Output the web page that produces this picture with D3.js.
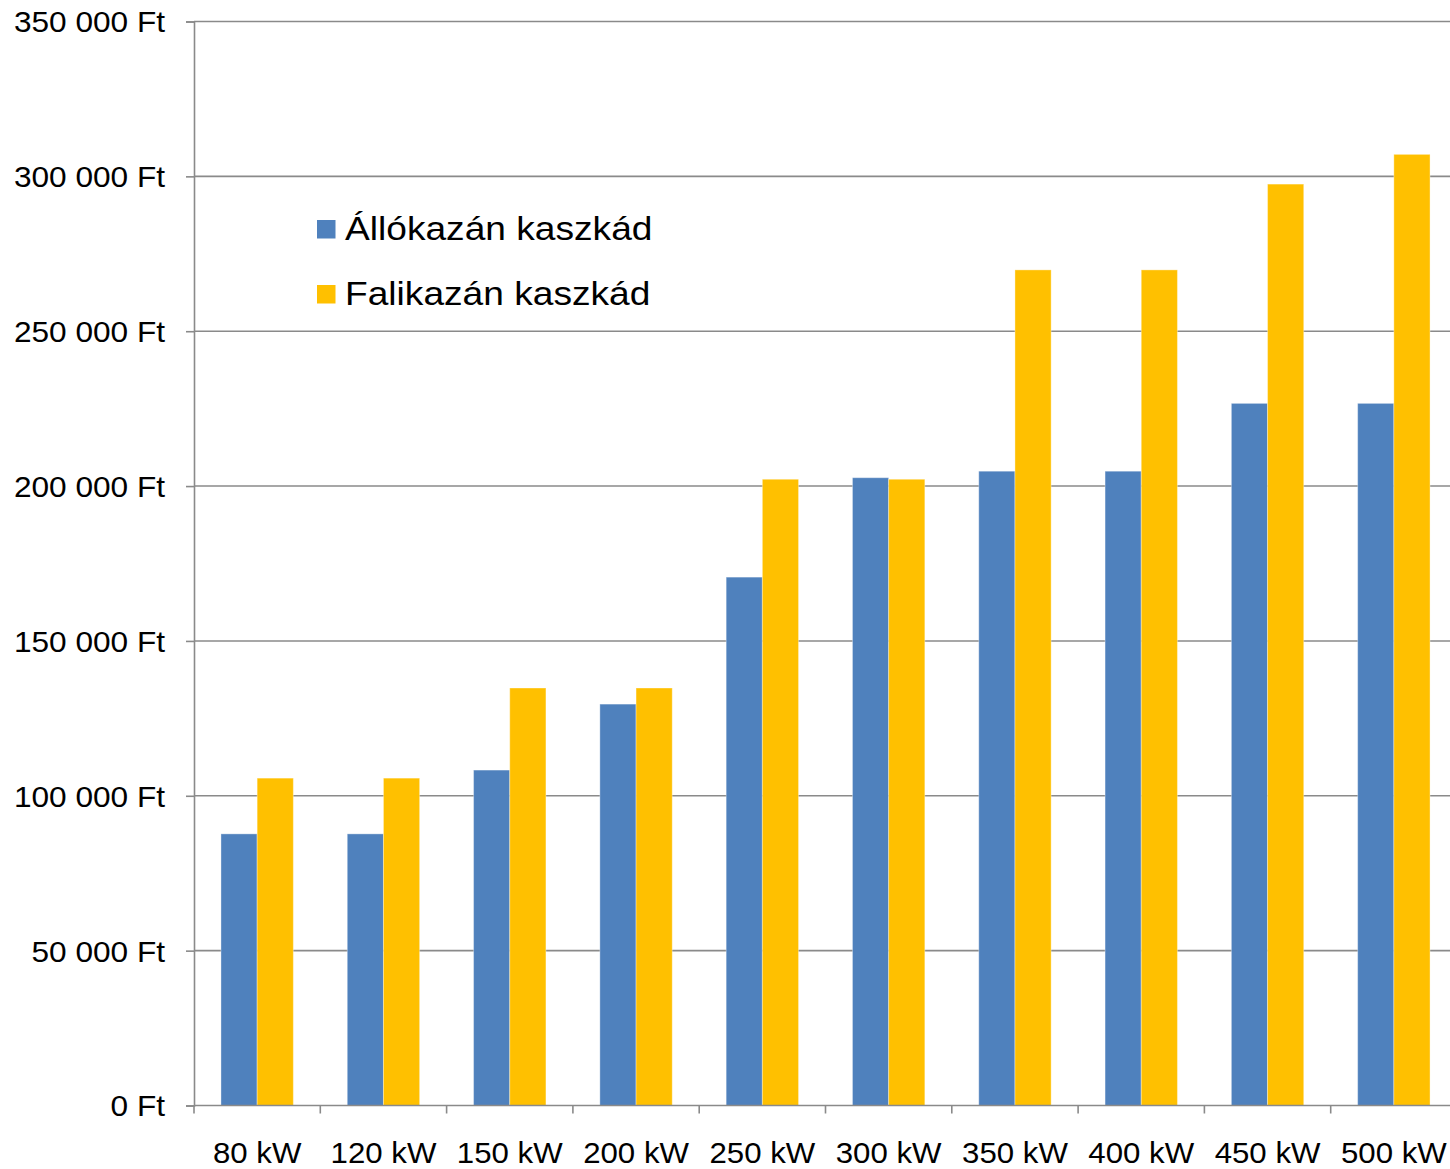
<!DOCTYPE html>
<html>
<head>
<meta charset="utf-8">
<script src="https://cdn.jsdelivr.net/npm/d3@7"></script>
<style>
  html, body { margin: 0; padding: 0; background: #fff; }
  svg { display: block; font-family: Arial, "Liberation Sans", sans-serif; }
</style>
</head>
<body>
<svg id="chart" width="1450" height="1169"></svg>
<script>
// Boiler capacities
const categories = ["80 kW", "120 kW", "150 kW", "200 kW", "250 kW", "300 kW", "350 kW", "400 kW", "450 kW", "500 kW"];
// Series names
const seriesNames = ["Állókazán kaszkád", "Falikazán kaszkád"];
// Prices in Ft
const allokazan = [87700, 87700, 108300, 129600, 170600, 202700, 204800, 204800, 226700, 226700];
const falikazan = [105700, 105700, 134800, 134800, 202200, 202200, 269800, 269800, 297500, 307100];
// Y axis ticks
const yTicks = [0, 50000, 100000, 150000, 200000, 250000, 300000, 350000];

const colors = ["#4F81BD", "#FFC000"];
const seriesValues = [allokazan, falikazan];

const svg = d3.select("#chart");
const plotLeft = 194, plotTop = 21.5, plotBottom = 1105.5;
const step = 126.3;
const plotRight = plotLeft + step * categories.length;

const x = d3.scaleBand()
  .domain(categories)
  .range([plotLeft, plotRight])
  .paddingInner(0.427)
  .paddingOuter(0.2135);
const xs = d3.scaleBand().domain(d3.range(seriesNames.length)).range([0, x.bandwidth()]);
const y = d3.scaleLinear().domain([0, 350000]).range([plotBottom, plotTop]);

const fmt = v => d3.format(",")(v).replace(/,/g, " ") + " Ft";
const gridColor = "#8a8a8a";

// horizontal gridlines
svg.append("g")
  .selectAll("line")
  .data(yTicks.filter(t => t > 0))
  .join("line")
  .attr("x1", plotLeft).attr("x2", 1450)
  .attr("y1", d => y(d)).attr("y2", d => y(d))
  .attr("stroke", gridColor).attr("stroke-width", 1.6);

// bars
const groups = svg.append("g")
  .selectAll("g")
  .data(categories)
  .join("g")
  .attr("transform", d => `translate(${x(d)},0)`);

groups.selectAll("rect")
  .data((c, i) => seriesValues.map((vals, s) => ({ s, v: vals[i] })))
  .join("rect")
  .attr("x", d => xs(d.s))
  .attr("width", xs.bandwidth())
  .attr("y", d => y(d.v))
  .attr("height", d => plotBottom - y(d.v))
  .attr("fill", d => colors[d.s])
  .attr("stroke", "rgba(255,255,255,0.35)")
  .attr("stroke-width", 1);

// y axis
const yAxis = svg.append("g")
  .attr("transform", `translate(${plotLeft},0)`)
  .call(d3.axisLeft(y).tickValues(yTicks).tickFormat(fmt).tickSize(8).tickPadding(21));
yAxis.select(".domain").attr("stroke", gridColor).attr("stroke-width", 1.6);
yAxis.selectAll(".tick line").attr("stroke", gridColor).attr("stroke-width", 1.6);
yAxis.selectAll(".tick text")
  .attr("font-size", 29).attr("fill", "#000").attr("dy", "0.36em")
  .attr("font-family", "Arial, 'Liberation Sans', sans-serif")
  .attr("class", "stretchY");

// x axis line and boundary ticks
svg.append("line")
  .attr("x1", plotLeft).attr("x2", 1450)
  .attr("y1", plotBottom).attr("y2", plotBottom)
  .attr("stroke", gridColor).attr("stroke-width", 1.6);
const boundaries = categories.map(c => x(c) - x.step() * x.paddingInner() / 2).concat([plotRight]);
svg.append("g").selectAll("line")
  .data(boundaries)
  .join("line")
  .attr("x1", d => d).attr("x2", d => d)
  .attr("y1", plotBottom).attr("y2", plotBottom + 8)
  .attr("stroke", gridColor).attr("stroke-width", 1.6);

// category labels
const xAxis = svg.append("g")
  .attr("transform", `translate(0,${plotBottom})`)
  .call(d3.axisBottom(x).tickSize(0).tickPadding(36));
xAxis.select(".domain").remove();
xAxis.selectAll(".tick text")
  .attr("font-size", 30).attr("fill", "#000")
  .attr("font-family", "Arial, 'Liberation Sans', sans-serif")
  .attr("class", "stretchX");

// legend
const legend = svg.append("g").attr("transform", "translate(317,220)");
const items = legend.selectAll("g")
  .data(seriesNames)
  .join("g")
  .attr("transform", (d, i) => `translate(0,${i * 65})`);
items.append("rect")
  .attr("width", 18.5).attr("height", 18.5)
  .attr("fill", (d, i) => colors[i]);
items.append("text")
  .attr("x", 28).attr("y", 20)
  .attr("font-size", 33).attr("fill", "#000")
  .attr("class", "stretchL")
  .text(d => d);

// widen the glyphs slightly, as in the original wide-format rendering
function stretch(sel, k) {
  sel.each(function () {
    const w = this.getComputedTextLength();
    d3.select(this).attr("textLength", w * k).attr("lengthAdjust", "spacingAndGlyphs");
  });
}
stretch(svg.selectAll(".stretchY"), 1.09);
stretch(svg.selectAll(".stretchX"), 1.04);
stretch(svg.selectAll(".stretchL"), 1.125);
</script>
</body>
</html>
